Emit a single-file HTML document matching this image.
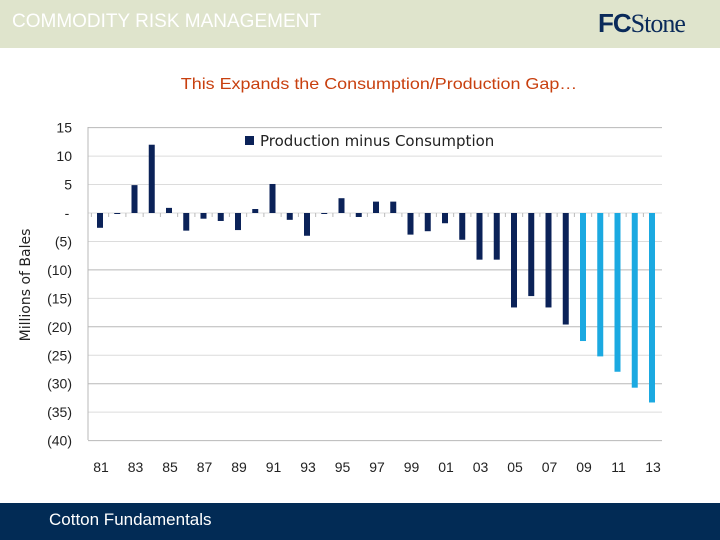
<!DOCTYPE html>
<html><head><meta charset="utf-8"><style>
body{margin:0;width:720px;height:540px;overflow:hidden;background:#fff;font-family:"Liberation Sans",sans-serif;position:relative}
#hdr{position:absolute;left:0;top:0;width:720px;height:48px;background:#dfe4cc}
#hdr .t{position:absolute;left:12px;top:11px;color:#fff;font-size:19px}
#logo{position:absolute;left:598px;top:8px;font-family:"Liberation Serif",serif;font-size:26px;color:#0a2a5a;letter-spacing:-1px}
#ftr{position:absolute;left:0;top:503px;width:720px;height:37px;background:#022b55}
#ftr span{position:absolute;left:49px;top:7px;color:#fff;font-size:17px}
#title{position:absolute;left:0;width:758px;top:76px;text-align:center;color:#c8400f;font-size:16px;transform:scaleX(1.12);transform-origin:379px 0}
svg{position:absolute;left:0;top:0}
</style></head><body>
<div id="hdr"><span class="t">COMMODITY RISK MANAGEMENT</span><span id="logo"><b style="font-family:'Liberation Sans',sans-serif">FC</b>Stone</span></div>
<div id="title">This Expands the Consumption/Production Gap…</div>
<svg id="chart" width="720" height="540"></svg>
<div id="ftr"><span>Cotton Fundamentals</span></div>
<script>
const years=["81","82","83","84","85","86","87","88","89","90","91","92","93","94","95","96","97","98","99","00","01","02","03","04","05","06","07","08","09","10","11","12","13"];
const values=[-2.6,-0.1,4.9,12,0.9,-3.1,-1,-1.4,-3,0.7,5.1,-1.2,-4,-0.1,2.6,-0.7,2,2,-3.8,-3.2,-1.8,-4.7,-8.2,-8.2,-16.6,-14.6,-16.6,-19.6,-22.5,-25.2,-27.9,-30.7,-33.3];
const projected=[0,0,0,0,0,0,0,0,0,0,0,0,0,0,0,0,0,0,0,0,0,0,0,0,0,0,0,0,1,1,1,1,1];
const yTicks=[15,10,5,0,-5,-10,-15,-20,-25,-30,-35,-40];
const yTickLabels=["15","10","5","-","(5)","(10)","(15)","(20)","(25)","(30)","(35)","(40)"];
const NS="http://www.w3.org/2000/svg";
const svg=document.getElementById('chart');
const y=v=>213-(v)*5.69;
const x=i=>100+i*17.25;
function mk(t,a){const e=document.createElementNS(NS,t);for(const k in a)e.setAttribute(k,a[k]);svg.appendChild(e);return e;}
yTicks.forEach((t,i)=>{
  const l=mk('line',{x1:88,x2:662,y1:y(t),y2:y(t),stroke:(t%10===0&&t<0)||t===15?'#b8b8b8':'#dcdcdc','stroke-width':1});
  
  
  const tx=mk('text',{x:t===0?67:72,y:y(t)+5,'text-anchor':t===0?'middle':'end','font-size':14,fill:'#222','font-family':'Liberation Sans,sans-serif'});
  tx.textContent=yTickLabels[i];
  
  
});
const ax=mk('line',{x1:88,x2:88,y1:127,y2:440,stroke:'#b8b8b8'});


years.forEach((yr,i)=>{
  const tk=mk('line',{x1:x(i)-8.6,x2:x(i)-8.6,y1:213,y2:217,stroke:'#bbb'});
  
  
  const v=values[i];
  const r=mk('rect',{x:x(i)-3,width:6,y:Math.min(y(v),y(0)),height:Math.max(1,Math.abs(y(v)-y(0))),fill:projected[i]?'#1ba9e1':'#0b2258'});
  
  
  if(i%2===0){
    const t=mk('text',{x:x(i)+1,y:472,'text-anchor':'middle','font-size':14,fill:'#222','font-family':'Liberation Sans,sans-serif'});
    t.textContent=yr;
    
    
  }
});
const lk=mk('rect',{x:245,y:136,width:9,height:9,fill:'#0b2258'});


const lt=mk('text',{x:260,y:146,'font-size':15,fill:'#222','font-family':'DejaVu Sans,sans-serif'});
lt.textContent='Production minus Consumption';


const yt=mk('text',{x:0,y:0,transform:'translate(30,285) rotate(-90)','text-anchor':'middle','font-size':14,fill:'#222','font-family':'DejaVu Sans,sans-serif'});
yt.textContent='Millions of Bales';


</script>
</body></html>
